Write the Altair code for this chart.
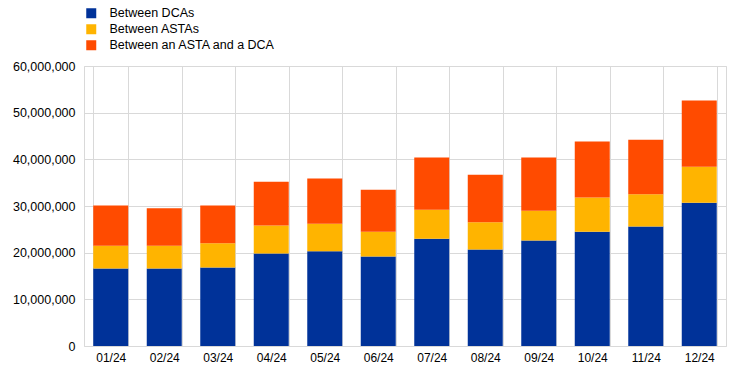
import altair as alt
import pandas as pd

months = ["01/24", "02/24", "03/24", "04/24", "05/24", "06/24",
          "07/24", "08/24", "09/24", "10/24", "11/24", "12/24"]
between_dcas = [16.6, 16.6, 16.8, 19.8, 20.3, 19.2, 23.0, 20.7, 22.6, 24.5, 25.6, 30.7]
between_astas = [4.9, 4.9, 5.2, 6.0, 5.9, 5.3, 6.2, 5.8, 6.4, 7.3, 6.9, 7.7]
between_asta_dca = [8.6, 8.0, 8.1, 9.4, 9.7, 9.0, 11.2, 10.2, 11.4, 12.0, 11.7, 14.2]
series = ["Between DCAs", "Between ASTAs", "Between an ASTA and a DCA"]
colors = ["#003299", "#FFB400", "#FF4B00"]

rows = []
for i, m in enumerate(months):
    for k, vals in enumerate([between_dcas, between_astas, between_asta_dca]):
        rows.append({"month": m, "series": series[k], "order": k,
                     "value": vals[i] * 1_000_000})
df = pd.DataFrame(rows)

chart = alt.Chart(df).mark_bar().encode(
    x=alt.X("month:N", sort=months, title=None,
            scale=alt.Scale(paddingInner=0.346, paddingOuter=0.173),
            axis=alt.Axis(labelAngle=0, grid=True, tickBand="extent", ticks=False,
                          domain=False, labelPadding=6, labelFontSize=12,
                          labelFont="Liberation Sans", labelColor="#000000",
                          gridColor="#d9d9d9")),
    y=alt.Y("value:Q", title=None,
            scale=alt.Scale(domain=[0, 60_000_000], nice=False),
            axis=alt.Axis(values=[0, 10_000_000, 20_000_000, 30_000_000, 40_000_000,
                                  50_000_000, 60_000_000],
                          format=",d", ticks=False, domain=False, labelPadding=9,
                          labelFontSize=12.5, labelFont="Liberation Sans",
                          labelColor="#000000", gridColor="#d9d9d9")),
    color=alt.Color("series:N", scale=alt.Scale(domain=series, range=colors),
                    legend=alt.Legend(title=None, orient="none", legendX=1, legendY=-59,
                                      symbolType="square", symbolSize=100,
                                      symbolStrokeWidth=0, labelFontSize=12.5,
                                      labelFont="Liberation Sans", labelColor="#000000",
                                      labelOffset=12, rowPadding=3, padding=0,
                                      labelLimit=400)),
    order=alt.Order("order:Q", sort="ascending"),
).properties(
    width=642, height=280,
    autosize=alt.AutoSizeParams(type="none"),
    padding={"left": 76, "top": 58, "right": 10, "bottom": 20},
).configure_view(stroke="#d9d9d9")

chart.save("out.html", embed_options={"renderer": "svg", "actions": False})
